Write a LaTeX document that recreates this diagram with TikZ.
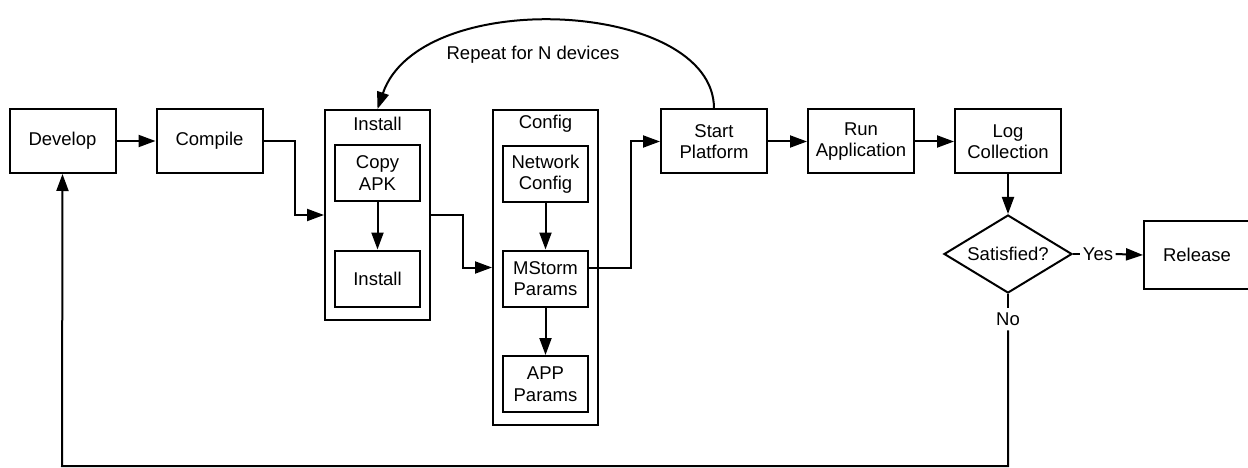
\documentclass[tikz,border=0pt]{standalone}
\usepackage{fontspec}
\setmainfont{Liberation Sans}
\usetikzlibrary{arrows.meta,shapes.geometric,calc}
\begin{document}
\begin{tikzpicture}[x=1pt,y=-1pt,line width=2pt,
  txt/.style={font=\fontsize{18.5}{21.5}\selectfont},
  box/.style={txt,draw,rectangle,align=center,inner sep=0pt,
    minimum width=106pt,minimum height=64pt},
  inbox/.style={box,minimum width=85pt,minimum height=56pt},
  group/.style={draw,rectangle,inner sep=0pt,minimum width=105pt},
  lbl/.style={txt,inner sep=1.5pt},
  decision/.style={txt,diamond,draw,aspect=1.64,inner sep=0pt,
    minimum width=128pt,minimum height=78pt},
  flow/.style={-{Triangle[length=17pt,width=12pt]}}]
\clip (0,0) rectangle (1248,468);

% main chain
\node[box] (dev)  at (62.5,141) {Develop};
\node[box] (comp) at (209.5,141) {Compile};

% install group
\node[group,minimum height=210pt] (instg) at (377.5,215) {};
\node[lbl] (instt) at (377.5,124) {Install};
\node[inbox] (copy) at (377.5,173) {Copy\\APK};
\node[inbox] (inst) at (377.5,278.5) {Install};

% config group
\node[group,minimum height=315pt] (cfgg) at (545.5,267.5) {};
\node[lbl] (cfgt) at (545.5,124) {Config};
\node[inbox] (net) at (545.5,174) {Network\\Config};
\node[inbox] (ms)  at (545.5,278.5) {MStorm\\Params};
\node[inbox] (app) at (545.5,384) {APP\\Params};

\node[box] (start) at (714,141.5) {Start\\Platform};
\node[box] (run)   at (861,141.5) {Run\\Application};
\node[box] (log)   at (1008,141.5) {Log\\Collection};

% decision
\node[decision] (sat) at (1008,254) {Satisfied?};
\node[lbl] (yes) at (1098,254) {Yes};
\node[box,minimum height=68pt] (rel) at (1197,255) {Release};
\node[lbl,inner sep=4pt] (no) at (1008,319) {No};
\coordinate (br) at (1008,466);
\coordinate (bl) at (62,466);

\node[lbl] (rep) at (533,55) {Repeat for N devices};

% connectors
\draw[flow] (dev) -- (comp);
\draw[flow] (comp.east) -- ++(31,0) |- (instg.west);
\draw[flow] (copy) -- (inst);
\draw[flow] (instg.east) -- ++(32,0) |- (cfgg.west);
\draw[flow] (net) -- (ms);
\draw[flow] (ms) -- (app);
\draw[flow] (ms.east |- cfgg.west) -- ++(42,0) |- (start.west);
\draw[flow] (start) -- (run);
\draw[flow] (run) -- (log);
\draw[flow] (log) -- (sat);
\draw (sat.east) -- (yes.west);
\draw[flow] (yes.east) -- (rel.west);
\draw (sat.south) -- (no.north);
\draw[flow] (no.south) -- (br) -- (bl) -- (dev.south);
\draw[flow] (start.north) .. controls (714,0) and (420,-15) .. (instg.north);
\end{tikzpicture}
\end{document}
